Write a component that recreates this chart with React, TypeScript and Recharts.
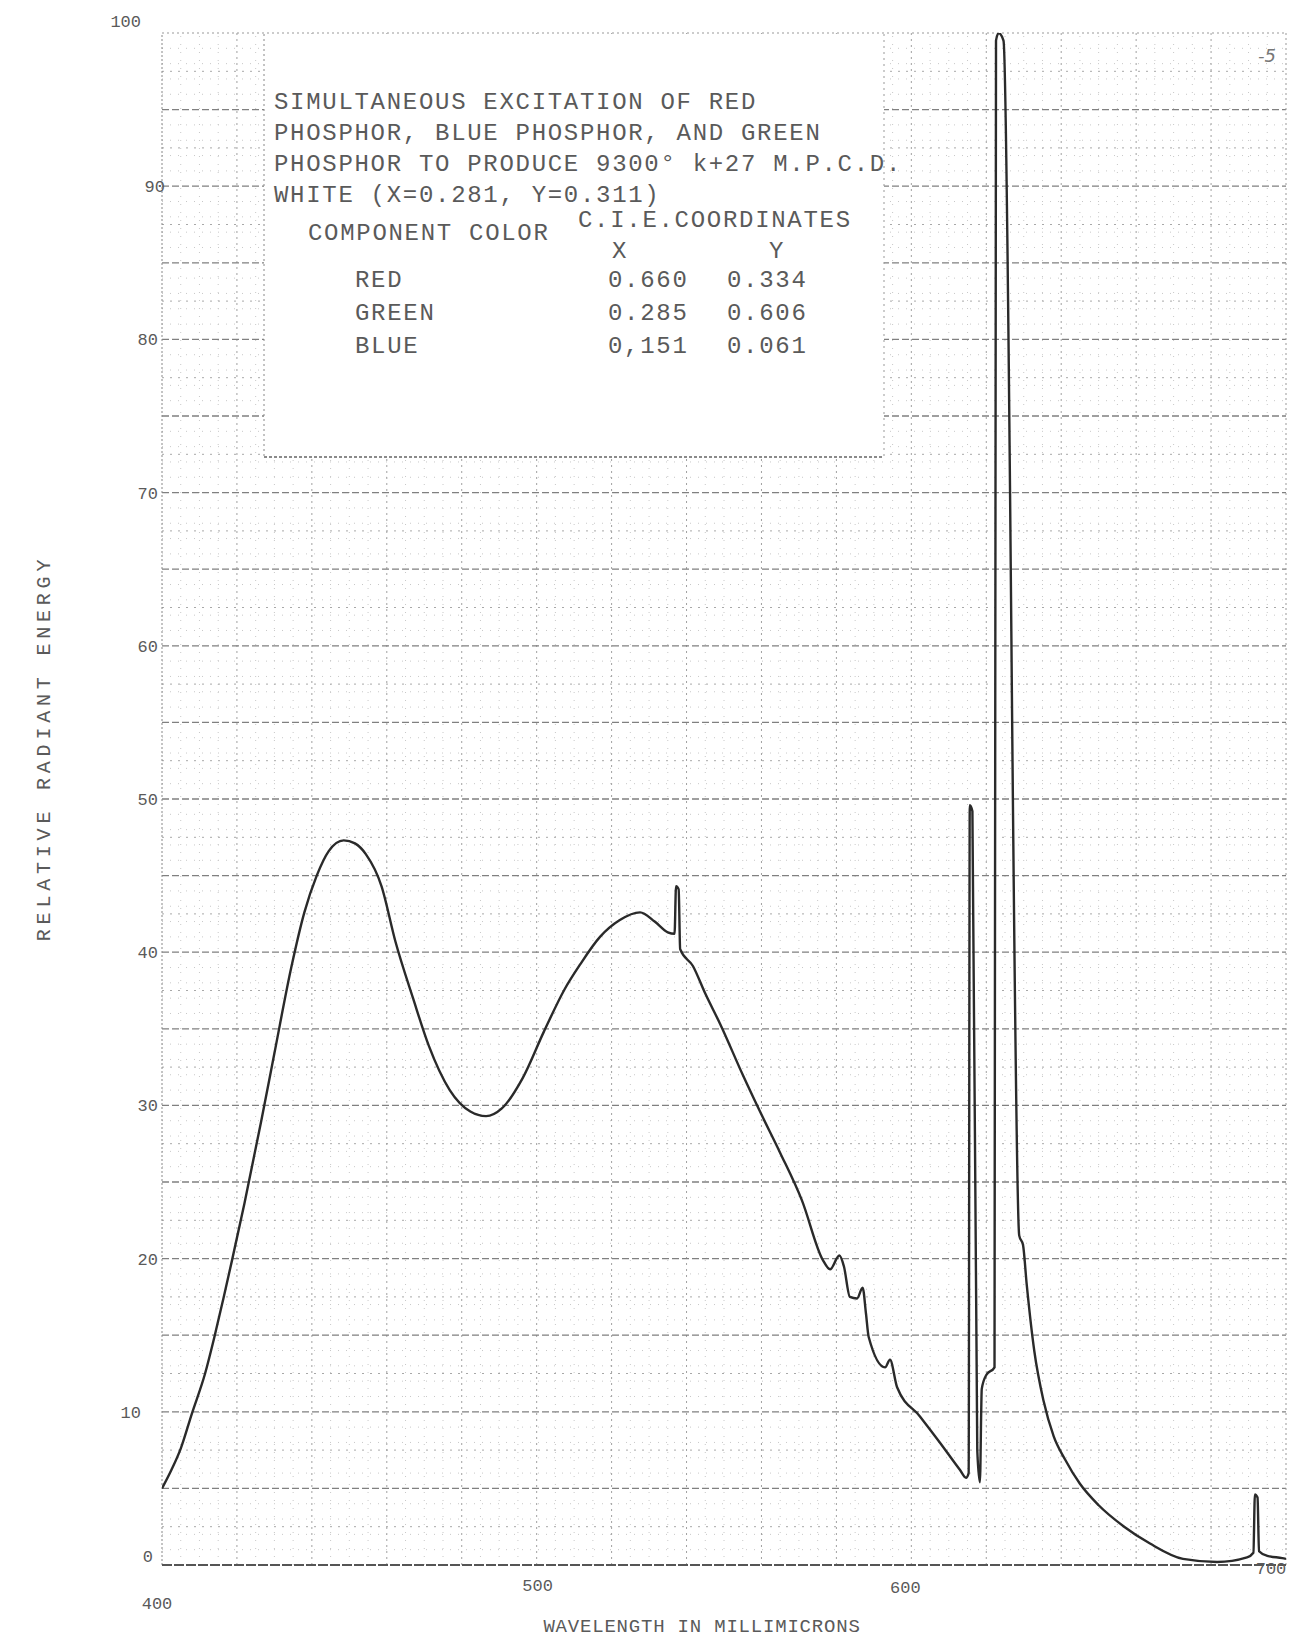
import React from "react";
import { Line, LineChart, ReferenceLine, XAxis, YAxis } from "recharts";

// wavelength (millimicrons) and relative radiant energy
const wavelength = [
  400, 402.5, 405, 408, 411.5, 414, 416.3, 418.7, 422, 426.5, 430, 434.5, 438, 441.3, 444.5, 448.5,
  451.5, 454.4, 458.6, 462.3, 467, 471.2, 476.8, 482.3, 486.5, 490.7, 496.3, 501.9, 507.5, 511.6,
  516.9, 522.2, 527.6, 531.5, 535, 536.8, 537.2, 537.9, 538.3, 541.7, 545, 549, 555, 560, 565, 570.8,
  576.4, 578.3, 580.8, 582, 583.6, 585.5, 587, 587.9, 588.6, 593, 594.3, 596.2, 602.3, 607.6, 613,
  614.6, 615.3, 615.6, 616.3, 617.6, 618.3, 618.8, 620, 622.2, 622.6, 623.3, 624.6, 628.8, 629.8,
  630.8, 632.8, 635.3, 638, 641, 645, 650, 656.8, 663.7, 672.5, 681.6, 689.6, 691.3, 691.7, 692.4,
  692.8, 695, 699, 700,
];
const energy = [
  5.0, 6.2, 7.6, 9.9, 12.5, 14.9, 17.3, 19.9, 23.6, 29.0, 33.4, 39.0, 42.6, 45.0, 46.6, 47.3,
  47.1, 46.4, 44.3, 40.7, 37.0, 33.9, 31.0, 29.6, 29.3, 29.8, 31.8, 34.8, 37.6, 39.2,
  41.0, 42.1, 42.6, 42.0, 41.3, 41.2, 44.3, 44.1, 40.2, 39.1, 37.3, 35.3, 32.0, 29.4, 26.9, 23.8,
  19.9, 19.3, 20.2, 19.5, 17.5, 17.4, 18.1, 16.4, 14.9, 12.9, 13.4, 11.6, 9.7, 8.0, 6.2,
  5.7, 6.0, 49.6, 49.2, 7.5, 5.4, 11.5, 12.4, 12.9, 99.5, 100, 99.5, 21.5, 20.9,
  18.3, 14.0, 10.7, 8.4, 6.9, 5.3, 3.9, 2.5, 1.4, 0.4, 0.2, 0.5, 0.8, 4.6, 4.4,
  0.9, 0.6, 0.45, 0.4,
];

const xTicks = [400, 500, 600, 700];
const yTicks = [0, 10, 20, 30, 40, 50, 60, 70, 80, 90, 100];

const headerLines = [
  "SIMULTANEOUS EXCITATION OF RED",
  "PHOSPHOR, BLUE PHOSPHOR, AND GREEN",
  "PHOSPHOR TO PRODUCE 9300° k+27 M.P.C.D.",
  "WHITE (X=0.281, Y=0.311)",
];
const componentNames = ["RED", "GREEN", "BLUE"];
const cieX = ["0.660", "0.285", "0,151"];
const cieY = ["0.334", "0.606", "0.061"];

const data = wavelength.map((nm, i) => ({ nm, energy: energy[i] }));

// graph paper rulings
const yFine = Array.from({ length: 99 }, (_, i) => i + 1).filter((v) => v % 5 !== 0);
const yHalf = Array.from({ length: 20 }, (_, i) => i * 5 + 2.5);
const yMajor = Array.from({ length: 19 }, (_, i) => (i + 1) * 5);
const xFine = Array.from({ length: 59 }, (_, i) => 405 + i * 5).filter((v) => v % 20 !== 0);
const xMajor = Array.from({ length: 14 }, (_, i) => 420 + i * 20);

const MONO = "'Liberation Mono', 'DejaVu Sans Mono', monospace";
const INK = "#5a5a5a";

const yShift: Record<number, [number, number]> = { 100: [-17, -12], 90: [7, 0], 10: [-17, 0], 0: [-5, -9] };
const xShift: Record<number, [number, number]> = { 400: [-5, 44], 500: [1, 26], 600: [-6, 28], 700: [-15, 9] };

const YTick = (props: any) => {
  const v = props.payload.value;
  const [dx, dy] = yShift[v] || [0, 0];
  return (
    <text x={158 + dx} y={props.y + dy + 6} textAnchor="end" fontFamily={MONO} fontSize={17} fill={INK}>
      {v}
    </text>
  );
};

const XTick = (props: any) => {
  const v = props.payload.value;
  const [dx, dy] = xShift[v] || [0, 0];
  return (
    <text x={props.x + dx} y={1565 + dy} textAnchor="middle" fontFamily={MONO} fontSize={17} fill={INK}>
      {v}
    </text>
  );
};

const NoteBox = () => (
  <svg width={1305} height={1639} style={{ position: "absolute", left: 0, top: 0, pointerEvents: "none" }}>
    <rect x={264} y={34} width={620} height={423} fill="#fff" />
    <line x1={264} y1={34} x2={264} y2={457} stroke="#888" strokeDasharray="2 3" />
    <line x1={884} y1={34} x2={884} y2={457} stroke="#999" strokeDasharray="2 4" />
    <line x1={264} y1={457} x2={884} y2={457} stroke="#666" strokeWidth={1.5} strokeDasharray="3 2" />
    <g fontFamily={MONO} fontSize={24} letterSpacing={1.7} fill={INK}>
      {headerLines.map((t, i) => (
        <text key={t} x={274} y={109 + i * 31}>
          {t}
        </text>
      ))}
      <text x={578} y={227}>C.I.E.COORDINATES</text>
      <text x={308} y={240}>COMPONENT COLOR</text>
      <text x={612} y={258}>X</text>
      <text x={769} y={258}>Y</text>
      {componentNames.map((c, i) => (
        <g key={c}>
          <text x={355} y={287 + i * 33}>{c}</text>
          <text x={608} y={287 + i * 33}>{cieX[i]}</text>
          <text x={727} y={287 + i * 33}>{cieY[i]}</text>
        </g>
      ))}
    </g>
    <text x={1258} y={62} fontFamily="'DejaVu Sans', sans-serif" fontStyle="italic" fontSize={18} fill="#777">-5</text>
    <text
      x={44}
      y={748}
      transform="rotate(-90 44 748)"
      textAnchor="middle"
      dominantBaseline="central"
      fontFamily={MONO}
      fontSize={20}
      letterSpacing={4.8}
      fill={INK}
    >
      RELATIVE RADIANT ENERGY
    </text>
    <text x={702} y={1632} textAnchor="middle" fontFamily={MONO} fontSize={19} letterSpacing={0.8} fill={INK}>
      WAVELENGTH IN MILLIMICRONS
    </text>
  </svg>
);

export default function App() {
  return (
    <div style={{ position: "absolute", left: 0, top: 0, width: 1305, height: 1639, background: "#fff" }}>
      <LineChart width={1305} height={1639} data={data} margin={{ top: 33, right: 19, left: 0, bottom: 0 }}>
        <XAxis
          dataKey="nm"
          type="number"
          domain={[400, 700]}
          ticks={xTicks}
          allowDataOverflow
          axisLine={false}
          tickLine={false}
          height={74}
          tick={<XTick />}
        />
        <YAxis
          type="number"
          domain={[0, 100]}
          ticks={yTicks}
          allowDataOverflow
          axisLine={false}
          tickLine={false}
          width={162}
          tick={<YTick />}
        />
        {yFine.map((v) => (
          <ReferenceLine key={`yf${v}`} y={v} stroke="#c8c8c8" strokeDasharray="1 7" />
        ))}
        {xFine.map((v) => (
          <ReferenceLine key={`xf${v}`} x={v} stroke="#c8c8c8" strokeDasharray="1 7" />
        ))}
        {yHalf.map((v) => (
          <ReferenceLine key={`yh${v}`} y={v} stroke="#a8a8a8" strokeDasharray="2 6" />
        ))}
        {xMajor.map((v) => (
          <ReferenceLine key={`xm${v}`} x={v} stroke="#a0a0a0" strokeDasharray="2 4" />
        ))}
        {yMajor.map((v) => (
          <ReferenceLine key={`ym${v}`} y={v} stroke="#808080" strokeWidth={1.3} strokeDasharray="7 3" />
        ))}
        <ReferenceLine x={400} stroke="#888" strokeDasharray="2 2" />
        <ReferenceLine x={700} stroke="#999" strokeDasharray="2 3" />
        <ReferenceLine y={100} stroke="#999" strokeDasharray="2 3" />
        <ReferenceLine y={0} stroke="#555" strokeWidth={2} strokeDasharray="10 2" />
        <Line
          type="monotone"
          dataKey="energy"
          stroke="#2a2a2a"
          strokeWidth={2.4}
          dot={false}
          isAnimationActive={false}
        />
      </LineChart>
      <NoteBox />
    </div>
  );
}
